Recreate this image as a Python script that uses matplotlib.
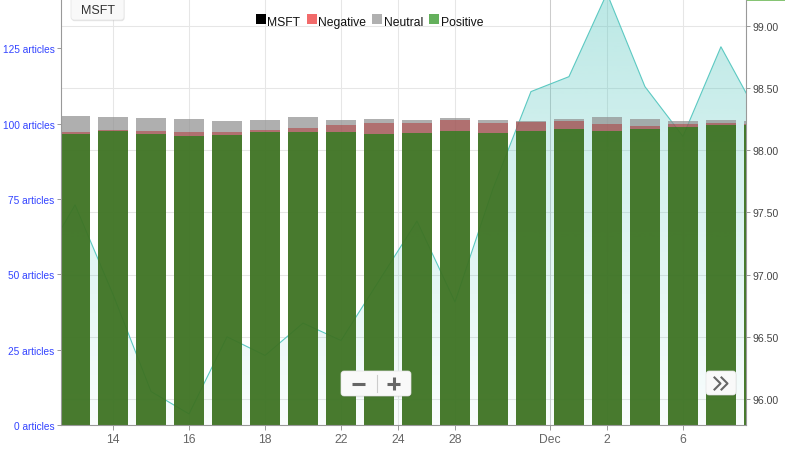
import numpy as np
import matplotlib.pyplot as plt
from matplotlib.patches import FancyBboxPatch, Rectangle

plt.rcParams['font.family'] = ['Liberation Sans', 'DejaVu Sans']

# --- Data (one bar per day, ordinal positions) ---
bar_idx = np.arange(19)
positive = [96.6, 97.6, 96.6, 95.8, 96.3, 97.1, 97.3, 97.3, 96.5, 96.8,
            97.5, 97.0, 97.5, 98.1, 97.5, 98.1, 99.0, 99.5, 99.5]
negative = [0.7, 0.3, 1.1, 1.3, 1.1, 0.8, 1.3, 2.3, 3.6, 3.5,
            3.8, 3.1, 3.0, 2.7, 2.3, 1.0, 0.8, 0.8, 0.5]
neutral = [5.3, 4.2, 4.1, 4.6, 3.6, 3.5, 3.5, 1.6, 1.4, 0.9,
           0.7, 1.1, 0.3, 0.8, 2.4, 2.4, 1.2, 1.0, 1.0]

# MSFT close (no quote on the holiday bar)
price_idx = [-1, 0, 1, 2, 3, 4, 5, 6, 7, 9, 10, 11, 12, 13, 14, 15, 16, 17, 18]
price = [97.03, 97.56, 96.84, 96.06, 95.88, 96.50, 96.35, 96.61, 96.47, 97.43,
         96.78, 97.69, 98.47, 98.59, 99.26, 98.51, 98.11, 98.83, 98.27]

xtick_pos = [1, 3, 5, 7, 8.5, 10, 12.5, 14, 16]
xtick_labels = ['14', '16', '18', '22', '24', '28', 'Dec', '2', '6']
left_ticks = [0, 25, 50, 75, 100, 125]
right_ticks = [96.0, 96.5, 97.0, 97.5, 98.0, 98.5, 99.0]

legend_names = ['MSFT', 'Negative', 'Neutral', 'Positive']
legend_colors = ['#000000', '#f26b6b', '#b0b0b0', '#64b05c']

# --- Figure ---
W, H = 798, 460
fig = plt.figure(figsize=(W / 100, H / 100), dpi=100)
ax = fig.add_axes([61 / W, 34 / H, 685 / W, 426 / H])
ax2 = ax.twinx()
ax.set_zorder(ax2.get_zorder() + 1)
ax.patch.set_visible(False)

xlim = (-0.37, 17.66)
ax.set_xlim(*xlim)
ax.set_ylim(0, 141.4)
ax2.set_ylim(95.791, 99.214)

# grid (drawn on the price axis, behind everything)
for v in right_ticks:
    ax2.axhline(v, color='#e6e6e6', lw=0.75, zorder=0)
for p, lab in zip(xtick_pos, xtick_labels):
    ax2.axvline(p, color='#cccccc' if lab == 'Dec' else '#e6e6e6', lw=0.75, zorder=0)

# price area with vertical gradient
fill = ax2.fill_between(price_idx, price, 95.791, facecolor='none', edgecolor='none')
grad = np.zeros((256, 1, 4))
base = np.array([79, 196, 188]) / 255
grad[:, 0, :3] = base
grad[:, 0, 3] = np.linspace(0.38, 0.03, 256)
im = ax2.imshow(grad, extent=[xlim[0], xlim[1], 95.791, 99.214], aspect='auto',
                origin='upper', zorder=1)
im.set_clip_path(fill.get_paths()[0], transform=ax2.transData)
ax2.plot(price_idx, price, color='#5cc9c2', lw=0.8, zorder=2)
ax2.set_xlim(*xlim)

# stacked sentiment bars
w = 0.79
pos = np.array(positive)
neg = np.array(negative)
ax.bar(bar_idx, pos, width=w, color='#3e7323', alpha=0.95, lw=0)
ax.bar(bar_idx, neg, width=w, bottom=pos, color='#a25757', alpha=0.85, lw=0)
ax.bar(bar_idx, neutral, width=w, bottom=pos + neg, color='#919191', alpha=0.72, lw=0)

# axes styling
for s in ['top', 'right']:
    ax.spines[s].set_visible(False)
for s in ['top', 'left', 'bottom']:
    ax2.spines[s].set_visible(False)
ax.spines['left'].set_color('#999999')
ax.spines['bottom'].set_color('#999999')
ax2.spines['right'].set_color('#999999')
for s in [ax.spines['left'], ax.spines['bottom'], ax2.spines['right']]:
    s.set_linewidth(0.8)

ax.set_yticks(left_ticks, [f'{v} articles' for v in left_ticks])
ax.tick_params(axis='y', colors='#999999', labelcolor='#3344ff', labelsize=7.3,
               length=3, width=0.7, pad=1.5)
ax.set_xticks(xtick_pos, xtick_labels)
ax.tick_params(axis='x', colors='#999999', labelcolor='#666666', labelsize=8.7,
               length=3.6, width=0.7, pad=2)
ax2.set_yticks(right_ticks, [f'{v:.2f}' for v in right_ticks])
ax2.tick_params(axis='y', colors='#999999', labelcolor='#444444', labelsize=7.6,
                length=3, width=0.7, pad=1.5)

# --- overlay in pixel coordinates: legend and buttons ---
ov = fig.add_axes([0, 0, 1, 1], zorder=10)
ov.set_xlim(0, W)
ov.set_ylim(H, 0)
ov.axis('off')
ov.patch.set_alpha(0)

# legend
leg_x = [256, 306.7, 372.3, 429]
for x, name, c in zip(leg_x, legend_names, legend_colors):
    ov.add_patch(Rectangle((x, 15), 10, 10, color=c, lw=0))
    ov.text(x + 11.5, 25.8, name, fontsize=8.7, color='#111111', va='baseline', ha='left')

# top-right scroller handle
ov.add_patch(Rectangle((747, 0), 38, 1.5, color='#86c474', lw=0))


def button(x, y, w, h):
    ov.add_patch(FancyBboxPatch((x + 0.5, y + 1.2), w, h, boxstyle='round,pad=0,rounding_size=3',
                                fc=(0, 0, 0, 0.10), ec='none'))
    ov.add_patch(FancyBboxPatch((x, y), w, h, boxstyle='round,pad=0,rounding_size=3',
                                fc='#f9f9f9', ec='#e4e4e4', lw=0.5))


# MSFT button
button(71, -3, 53, 24)
ov.text(97.5, 11, 'MSFT', fontsize=9, color='#333333', ha='center', va='center')

# zoom buttons
button(341, 372, 70, 25)
ov.plot([352, 365], [384.5, 384.5], color='#666666', lw=2.2, solid_capstyle='butt')
ov.plot([377.3, 377.3], [376, 392.5], color='#cccccc', lw=0.8)
ov.plot([387, 400], [384.5, 384.5], color='#666666', lw=2.2, solid_capstyle='butt')
ov.plot([393.5, 393.5], [378, 391], color='#666666', lw=2.2, solid_capstyle='butt')

# scroll button
button(706, 372, 30, 24)
for dx in [0, 7]:
    ov.plot([714.5 + dx, 720.5 + dx, 714.5 + dx], [378.5, 384.5, 390.5],
            color='#666666', lw=1.5)

fig.savefig('out.png', dpi=100)
